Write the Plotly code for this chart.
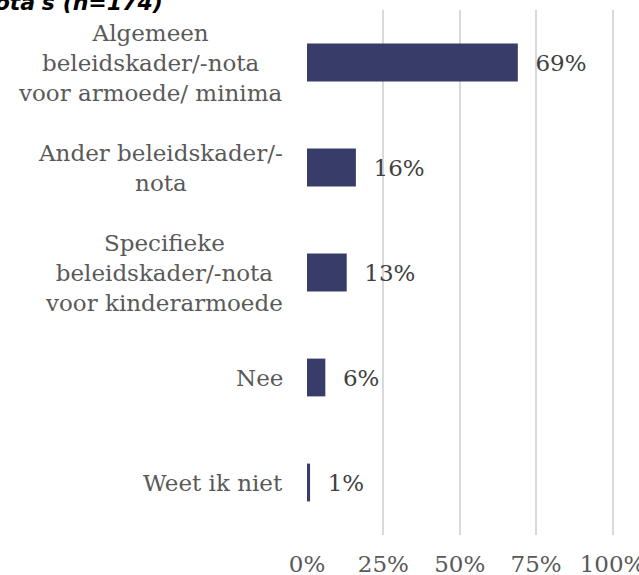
import plotly.graph_objects as go

categories = [
    "Algemeen<br>beleidskader/-nota<br>voor armoede/ minima",
    "Ander beleidskader/-<br>nota",
    "Specifieke<br>beleidskader/-nota<br>voor kinderarmoede",
    "Nee",
    "Weet ik niet",
]
values = [0.69, 0.16, 0.13, 0.06, 0.01]
value_labels = ["69%", "16%", "13%", "6%", "1%"]
tick_vals = [0, 0.25, 0.5, 0.75, 1.0]
tick_text = ["0%", "25%", "50%", "75%", "100%"]
title_text = "nota's (n=174)"

W, H = 639, 575
XMAX = 1.08
L, T, B = 307, 10, 40
PX_PER_UNIT = 306
R = W - L - round(PX_PER_UNIT * XMAX)

ids = list(range(len(categories)))

fig = go.Figure()
fig.add_trace(go.Bar(
    x=values, y=ids, orientation="h",
    marker=dict(color="#383c69", line=dict(width=0)),
    width=0.36,
    text=["\u00a0\u00a0" + t for t in value_labels],
    textposition="outside",
    textfont=dict(family="DejaVu Serif", size=23, color="#404040"),
    cliponaxis=False,
))

annotations = []
for i, c in zip(ids, categories):
    annotations.append(dict(
        x=0, xref="paper", y=i, yref="y",
        text=c, showarrow=False, xanchor="right", yanchor="middle",
        xshift=-22, align="center",
        font=dict(family="DejaVu Serif", size=23, color="#595959"),
    ))
annotations.append(dict(
    x=(165 - L) / (W - L - R), xref="paper",
    y=1 + (T - 3) / (H - T - B), yref="paper",
    text="<b><i>" + title_text + "</i></b>", showarrow=False,
    xanchor="right", yanchor="middle",
    font=dict(family="DejaVu Sans", size=22, color="#000000"),
))

fig.update_layout(
    width=W, height=H,
    margin=dict(l=L, r=R, t=T, b=B, autoexpand=False),
    paper_bgcolor="white", plot_bgcolor="white",
    showlegend=False,
    annotations=annotations,
    xaxis=dict(
        range=[0, XMAX], tickvals=tick_vals, ticktext=tick_text,
        showgrid=True, gridcolor="#d9d9d9", gridwidth=1.5,
        zeroline=False, showline=False,
        ticks="outside", ticklen=8, tickcolor="rgba(0,0,0,0)",
        ticklabeloverflow="allow",
        tickfont=dict(family="DejaVu Serif", size=23, color="#595959"),
        automargin=False, fixedrange=True,
    ),
    yaxis=dict(
        range=[len(categories) - 0.5, -0.5],
        showticklabels=False, showgrid=False, zeroline=False,
        showline=False, automargin=False, fixedrange=True,
    ),
)

fig.write_html(
    "out.html",
    config={"displayModeBar": False},
    post_script="document.body.style.margin='0px';document.body.style.overflow='hidden';",
)
